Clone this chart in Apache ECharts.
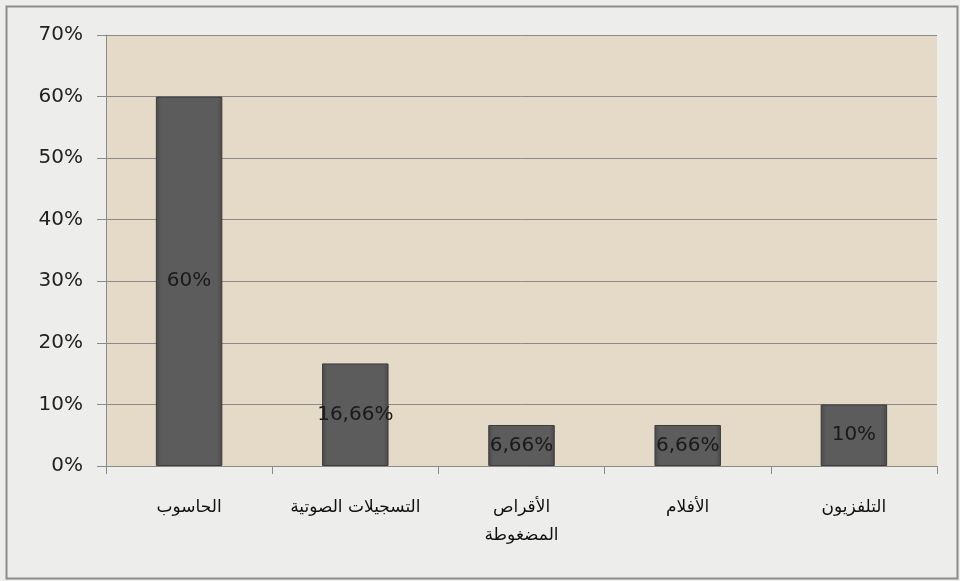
<!DOCTYPE html>
<html><head><meta charset="utf-8">
<script src="https://cdn.jsdelivr.net/npm/echarts@6/dist/echarts.min.js"></script>
<style>html,body{margin:0;padding:0;background:#eeeeec}#c{width:960px;height:581px}</style>
</head><body><div id="c"></div>
<script>
var categories = ['الحاسوب', 'التسجيلات الصوتية', 'الأقراص\nالمضغوطة', 'الأفلام', 'التلفزيون'];
var values = [60, 16.66, 6.66, 6.66, 10];
var valueLabels = ['60%', '16,66%', '6,66%', '6,66%', '10%'];
var yTicks = [0, 10, 20, 30, 40, 50, 60, 70];

var chart = echarts.init(document.getElementById('c'));
chart.setOption({
  backgroundColor: '#ededeb',
  animation: false,
  graphic: [{
    type: 'rect', left: 4, top: 4, shape: {width: 951, height: 572},
    style: {fill: 'none', stroke: '#8c8c8c', lineWidth: 2}, silent: true, z: -1
  }],
  grid: {left: 106, right: 23, top: 35, bottom: 115, show: true,
    backgroundColor: '#e4dac7', borderWidth: 0},
  xAxis: {
    type: 'category', data: categories,
    axisLine: {show: true, lineStyle: {color: '#8a8a8a', width: 1}},
    axisTick: {show: true, length: 8, interval: 0, lineStyle: {color: '#8a8a8a'}},
    axisLabel: {color: '#111', fontSize: 17, fontFamily: 'DejaVu Sans', margin: 28, lineHeight: 28, interval: 0}
  },
  yAxis: {
    type: 'value', min: 0, max: 70, interval: 10,
    axisLine: {show: true, lineStyle: {color: '#8a8a8a'}},
    axisTick: {show: true, length: 9, lineStyle: {color: '#8a8a8a'}},
    axisLabel: {color: '#222', fontSize: 20, fontFamily: 'DejaVu Sans', margin: 23,
      formatter: function (v) { return yTicks.indexOf(v) >= 0 ? v + '%' : ''; }},
    splitLine: {show: true, lineStyle: {color: '#8a8a8a', width: 1}}
  },
  series: [{
    type: 'bar', data: values, barWidth: '40%',
    itemStyle: {
      color: new echarts.graphic.LinearGradient(0, 0, 1, 0, [
        {offset: 0, color: '#4a4a4a'}, {offset: 0.08, color: '#5c5c5c'},
        {offset: 0.92, color: '#5c5c5c'}, {offset: 1, color: '#4a4a4a'}]),
      borderColor: '#3c3c3c', borderWidth: 1
    },
    label: {
      show: true, position: 'inside', color: '#1a1a1a', fontSize: 20, fontFamily: 'DejaVu Sans',
      formatter: function (p) { return valueLabels[p.dataIndex]; }
    }
  }]
});
</script></body></html>
